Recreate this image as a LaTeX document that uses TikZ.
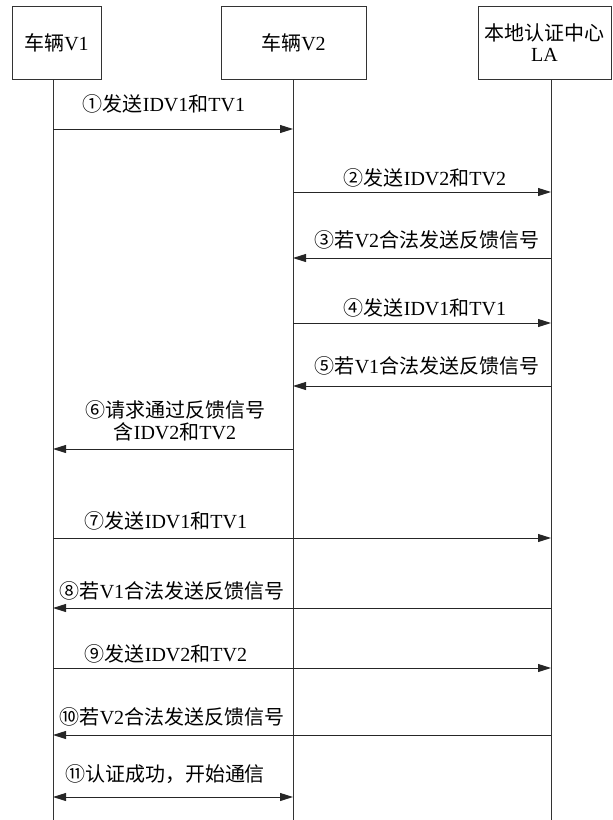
\documentclass[tikz,border=0pt]{standalone}
\usepackage{fontspec}
\setmainfont{Liberation Serif}
\newfontfamily\cjk{Noto Sans CJK SC}
\newcommand{\zh}[1]{{\cjk #1}}
\usetikzlibrary{arrows.meta}
\begin{document}
\begin{tikzpicture}[x=1pt,y=-1pt,
  every node/.style={font=\fontsize{20}{24}\selectfont, text=black},
  actor/.style={draw=black!80, line width=0.9pt, minimum height=73pt, inner sep=0pt, align=center},
  life/.style={draw=black!80, line width=0.9pt},
  msg/.style={draw=black!85, line width=0.9pt, -{Triangle[length=13pt,width=8pt]}},
  both/.style={draw=black!85, line width=0.9pt, {Triangle[length=13pt,width=8pt]}-{Triangle[length=13pt,width=8pt]}},
  lbl/.style={inner sep=1pt, align=center}]
\useasboundingbox (0,0) rectangle (613,820);
% actors
\node[actor, minimum width=89pt] (V1) at (56.5,43) {\zh{车辆}V1};
\node[actor, minimum width=145pt] (V2) at (293.5,43) {\zh{车辆}V2};
\node[actor, minimum width=133pt] (LA) at (544.5,43) {\zh{本地认证中心}\\[-3pt]LA};
% lifelines
\coordinate (t1) at (53,79.5);  \coordinate (b1) at (53,820);
\coordinate (t2) at (293,79.5); \coordinate (b2) at (293,820);
\coordinate (t3) at (551,79.5); \coordinate (b3) at (551,820);
\draw[life] (t1) -- (b1);
\draw[life] (t2) -- (b2);
\draw[life] (t3) -- (b3);
% message rows
\coordinate (m1) at (0,129);
\coordinate (m2) at (0,192);
\coordinate (m3) at (0,258);
\coordinate (m4) at (0,323);
\coordinate (m5) at (0,386);
\coordinate (m6) at (0,449);
\coordinate (m7) at (0,538);
\coordinate (m8) at (0,608);
\coordinate (m9) at (0,668);
\coordinate (m10) at (0,735);
\coordinate (m11) at (0,797);
\draw[msg] (t1|-m1) -- (t2|-m1);
\draw[msg] (t2|-m2) -- (t3|-m2);
\draw[msg] (t3|-m3) -- (t2|-m3);
\draw[msg] (t2|-m4) -- (t3|-m4);
\draw[msg] (t3|-m5) -- (t2|-m5);
\draw[msg] (t2|-m6) -- (t1|-m6);
\draw[msg] (t1|-m7) -- (t3|-m7);
\draw[msg] (t3|-m8) -- (t1|-m8);
\draw[msg] (t1|-m9) -- (t3|-m9);
\draw[msg] (t3|-m10) -- (t1|-m10);
\draw[both] (t1|-m11) -- (t2|-m11);
% labels
\node[lbl] (l1) at (164,104) {\zh{①发送}IDV1\zh{和}TV1};
\node[lbl] (l2) at (425,178) {\zh{②发送}IDV2\zh{和}TV2};
\node[lbl] (l3) at (427,240) {\zh{③若}V2\zh{合法发送反馈信号}};
\node[lbl] (l4) at (425,308) {\zh{④发送}IDV1\zh{和}TV1};
\node[lbl] (l5) at (427,366) {\zh{⑤若}V1\zh{合法发送反馈信号}};
\node[lbl] (l6) at (175,421) {\zh{⑥请求通过反馈信号}\\[-2pt]\zh{含}IDV2\zh{和}TV2};
\node[lbl] (l7) at (166,521) {\zh{⑦发送}IDV1\zh{和}TV1};
\node[lbl] (l8) at (172,591) {\zh{⑧若}V1\zh{合法发送反馈信号}};
\node[lbl] (l9) at (166,654) {\zh{⑨发送}IDV2\zh{和}TV2};
\node[lbl] (l10) at (172,717) {\zh{⑩若}V2\zh{合法发送反馈信号}};
\node[lbl] (l11) at (165,774) {\zh{⑪认证成功，开始通信}};
\end{tikzpicture}
\end{document}
